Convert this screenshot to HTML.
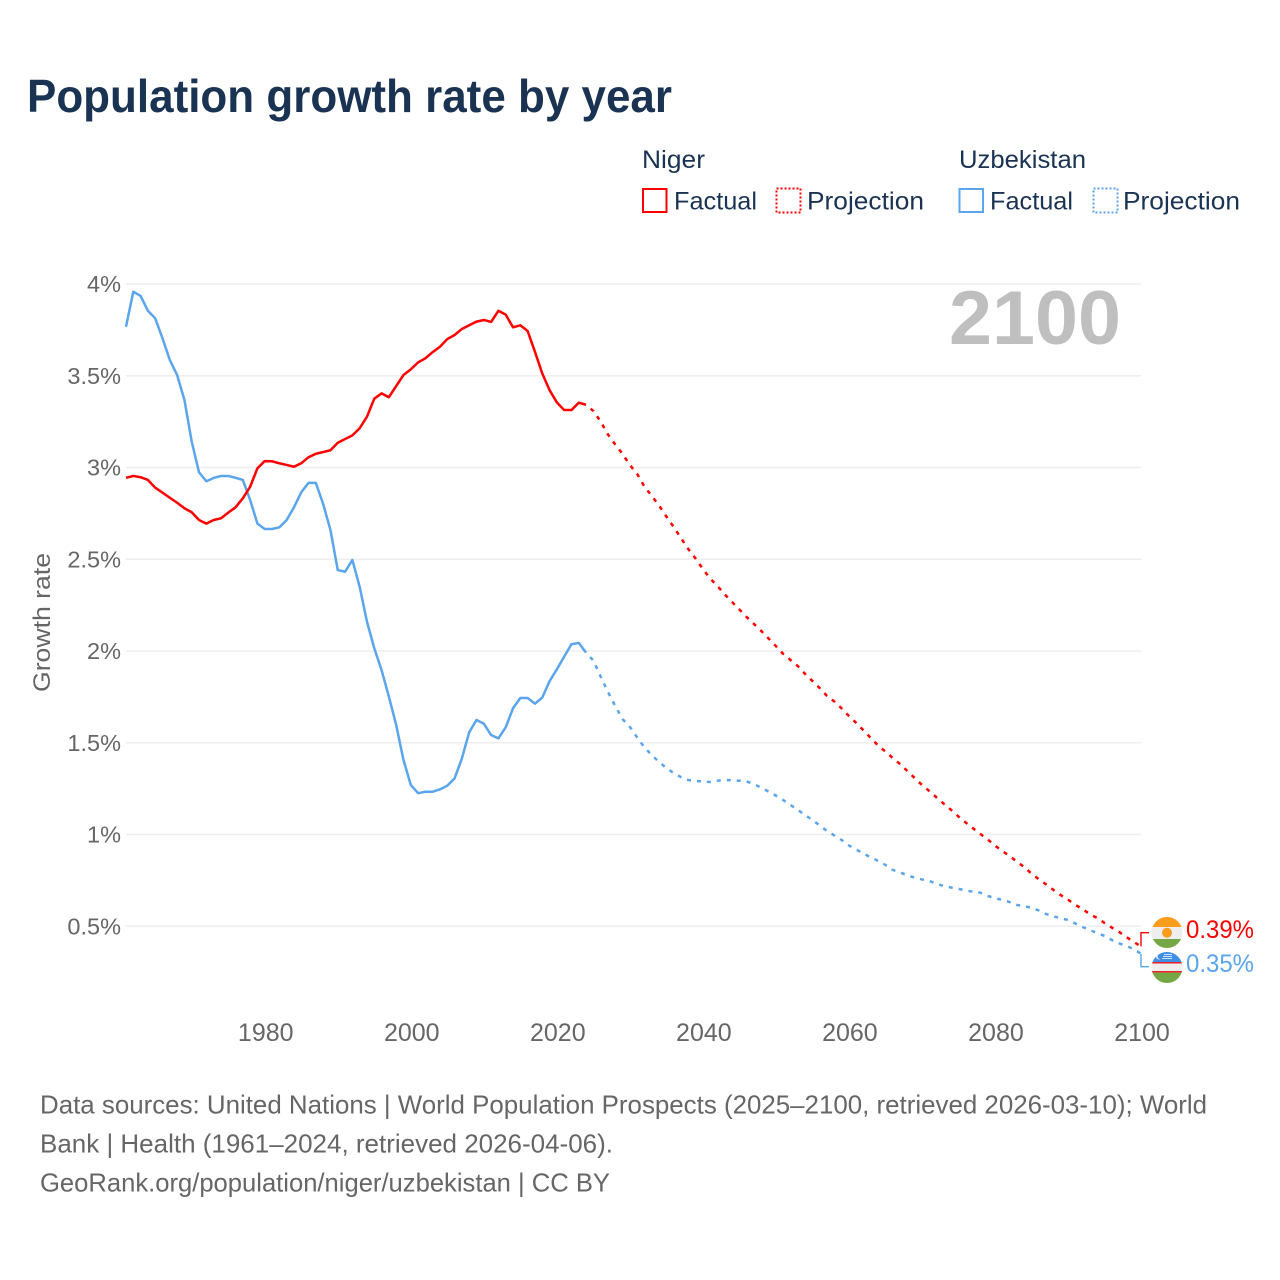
<!DOCTYPE html>
<html lang="en">
<head>
<meta charset="utf-8">
<title>Population growth rate by year</title>
<style>
  html, body { margin: 0; padding: 0; background: #fff; }
  svg { display: block; font-family: "Liberation Sans", sans-serif; }
</style>
</head>
<body>
<svg id="chart" xmlns="http://www.w3.org/2000/svg" width="1280" height="1280" viewBox="0 0 1280 1280">
  <rect x="0" y="0" width="1280" height="1280" fill="#ffffff"/>
  <text x="27" y="112" font-size="46" font-weight="bold" fill="#1a3353" textLength="645" lengthAdjust="spacingAndGlyphs">Population growth rate by year</text>

  <g font-size="25" fill="#1a3353">
    <text x="642" y="168" textLength="63" lengthAdjust="spacingAndGlyphs">Niger</text>
    <text x="959" y="168" textLength="127" lengthAdjust="spacingAndGlyphs">Uzbekistan</text>
    <rect x="643" y="189" width="23.5" height="23" fill="none" stroke="#ff0000" stroke-width="2"/>
    <text x="674" y="209.5" textLength="83" lengthAdjust="spacingAndGlyphs">Factual</text>
    <rect x="776.5" y="188.5" width="24" height="24" fill="none" stroke="#ff0000" stroke-width="2" stroke-dasharray="2 2"/>
    <text x="807" y="209.5" textLength="117" lengthAdjust="spacingAndGlyphs">Projection</text>
    <rect x="959.5" y="189" width="23.5" height="23" fill="none" stroke="#5aa5ec" stroke-width="2"/>
    <text x="990" y="209.5" textLength="83" lengthAdjust="spacingAndGlyphs">Factual</text>
    <rect x="1093.5" y="188.5" width="24" height="24" fill="none" stroke="#5aa5ec" stroke-width="2" stroke-dasharray="2 2"/>
    <text x="1123" y="209.5" textLength="117" lengthAdjust="spacingAndGlyphs">Projection</text>
  </g>

  <g id="grid"></g>
  <g id="yticks" font-size="23.5" fill="#666666" text-anchor="end"></g>
  <g id="xticks" font-size="25" fill="#666666" text-anchor="middle"></g>
  <text transform="translate(50,622.5) rotate(-90)" font-size="24" fill="#666666" text-anchor="middle" textLength="139" lengthAdjust="spacingAndGlyphs">Growth rate</text>
  <text x="949" y="344" font-size="76" font-weight="bold" fill="#bfbfbf" textLength="172" lengthAdjust="spacingAndGlyphs">2100</text>

  <g id="series"></g>

  <defs>
    <clipPath id="clip-niger"><circle cx="1167" cy="932.5" r="15.5"/></clipPath>
    <clipPath id="clip-uzbekistan"><circle cx="1167" cy="967.5" r="15.5"/></clipPath>
  </defs>
  <g clip-path="url(#clip-niger)">
    <rect x="1150" y="916" width="34" height="11" fill="#f99d1c"/>
    <rect x="1150" y="927" width="34" height="12" fill="#eeeeee"/>
    <rect x="1150" y="939" width="34" height="11" fill="#75a844"/>
    <circle cx="1167" cy="932.7" r="5" fill="#f99d1c"/>
  </g>
  <g clip-path="url(#clip-uzbekistan)">
    <rect x="1150" y="951" width="34" height="11" fill="#3f8fe6"/>
    <rect x="1150" y="962" width="34" height="1.6" fill="#e8202a"/>
    <rect x="1150" y="963.6" width="34" height="7.4" fill="#eeeeee"/>
    <rect x="1150" y="971" width="34" height="1.6" fill="#e8202a"/>
    <rect x="1150" y="972.6" width="34" height="12" fill="#75a844"/>
    <circle cx="1159" cy="956.5" r="3" fill="#eeeeee"/>
    <circle cx="1160.2" cy="956.5" r="2.6" fill="#3f8fe6"/>
    <rect x="1164" y="954" width="8" height="1" fill="#cfe2f7"/>
    <rect x="1163" y="956" width="9" height="1" fill="#cfe2f7"/>
    <rect x="1162" y="958" width="10" height="1" fill="#cfe2f7"/>
  </g>

  <g id="endlabels" font-size="25"></g>

  <g font-size="26" fill="#666666">
    <text x="40" y="1113.5" textLength="1167" lengthAdjust="spacingAndGlyphs">Data sources: United Nations | World Population Prospects (2025–2100, retrieved 2026-03-10); World</text>
    <text x="40" y="1152.5" textLength="573" lengthAdjust="spacingAndGlyphs">Bank | Health (1961–2024, retrieved 2026-04-06).</text>
    <text x="40" y="1191.5" textLength="570" lengthAdjust="spacingAndGlyphs">GeoRank.org/population/niger/uzbekistan | CC BY</text>
  </g>
</svg>
<script>
const firstFactualYear = 1961;
const firstProjectionYear = 2025;
const yTickValues = [0.5, 1, 1.5, 2, 2.5, 3, 3.5, 4];
const yTickLabels = ["0.5%", "1%", "1.5%", "2%", "2.5%", "3%", "3.5%", "4%"];
const xTickYears = [1980, 2000, 2020, 2040, 2060, 2080, 2100];
const xTickLabels = ["1980", "2000", "2020", "2040", "2060", "2080", "2100"];

const nigerFactual = [
  2.944, 2.954, 2.947, 2.932, 2.890, 2.863, 2.835, 2.808, 2.778, 2.756,
  2.714, 2.694, 2.714, 2.723, 2.754, 2.783, 2.832, 2.895, 2.996, 3.035,
  3.034, 3.023, 3.014, 3.004, 3.023, 3.056, 3.075, 3.084, 3.094, 3.135,
  3.155, 3.175, 3.214, 3.277, 3.375, 3.404, 3.383, 3.444, 3.504, 3.535,
  3.573, 3.595, 3.629, 3.658, 3.700, 3.722, 3.755, 3.775, 3.795, 3.804,
  3.793, 3.854, 3.833, 3.764, 3.775, 3.744, 3.631, 3.513, 3.422, 3.355,
  3.313, 3.313, 3.353, 3.342
];
const nigerProjection = [
  3.308, 3.251, 3.180, 3.125, 3.074, 3.014, 2.965, 2.896, 2.845, 2.793,
  2.733, 2.676, 2.616, 2.556, 2.504, 2.447, 2.395, 2.354, 2.308, 2.267,
  2.226, 2.185, 2.147, 2.109, 2.068, 2.027, 1.984, 1.951, 1.918, 1.875,
  1.837, 1.798, 1.755, 1.725, 1.687, 1.646, 1.608, 1.567, 1.526, 1.485,
  1.452, 1.417, 1.384, 1.346, 1.308, 1.270, 1.237, 1.202, 1.167, 1.134,
  1.098, 1.065, 1.034, 1.003, 0.973, 0.940, 0.910, 0.883, 0.852, 0.823,
  0.787, 0.756, 0.728, 0.698, 0.670, 0.645, 0.617, 0.593, 0.566, 0.545,
  0.518, 0.493, 0.469, 0.441, 0.415, 0.390
];
const uzbekistanFactual = [
  3.767, 3.958, 3.935, 3.854, 3.813, 3.704, 3.586, 3.504, 3.368, 3.141,
  2.974, 2.925, 2.943, 2.954, 2.954, 2.944, 2.932, 2.823, 2.694, 2.665,
  2.665, 2.674, 2.714, 2.783, 2.865, 2.916, 2.916, 2.801, 2.659, 2.441,
  2.432, 2.496, 2.350, 2.160, 2.015, 1.896, 1.751, 1.597, 1.406, 1.270,
  1.225, 1.233, 1.233, 1.246, 1.266, 1.306, 1.415, 1.557, 1.624, 1.604,
  1.542, 1.524, 1.584, 1.688, 1.744, 1.744, 1.713, 1.746, 1.835, 1.900,
  1.969, 2.037, 2.044, 1.991
];
const uzbekistanProjection = [
  1.948, 1.861, 1.777, 1.700, 1.629, 1.586, 1.529, 1.474, 1.433, 1.395,
  1.362, 1.335, 1.313, 1.297, 1.292, 1.289, 1.286, 1.293, 1.297, 1.295,
  1.293, 1.289, 1.275, 1.255, 1.234, 1.212, 1.188, 1.161, 1.134, 1.106,
  1.079, 1.049, 1.019, 0.995, 0.970, 0.940, 0.918, 0.896, 0.875, 0.856,
  0.834, 0.807, 0.794, 0.777, 0.765, 0.755, 0.747, 0.732, 0.719, 0.711,
  0.704, 0.695, 0.688, 0.683, 0.665, 0.654, 0.643, 0.632, 0.616, 0.609,
  0.601, 0.586, 0.567, 0.554, 0.544, 0.534, 0.515, 0.496, 0.479, 0.463,
  0.447, 0.425, 0.407, 0.392, 0.376, 0.350
];

const SVG_NS = "http://www.w3.org/2000/svg";
const RED = "#ff0000";
const BLUE = "#5aa5ec";

function xScale(year) {
  return 126 + (year - 1961) * (1015 / 139);
}
function yScale(value) {
  return 284 + (4 - value) * 183.5;
}
function make(tag, attrs, parent) {
  const el = document.createElementNS(SVG_NS, tag);
  for (const key in attrs) el.setAttribute(key, attrs[key]);
  parent.appendChild(el);
  return el;
}
function linePoints(startYear, values) {
  return values.map(function (v, i) {
    return xScale(startYear + i).toFixed(2) + "," + yScale(v).toFixed(2);
  }).join(" ");
}

const gridLayer = document.getElementById("grid");
const yTickLayer = document.getElementById("yticks");
const xTickLayer = document.getElementById("xticks");
const seriesLayer = document.getElementById("series");
const endLayer = document.getElementById("endlabels");

yTickValues.forEach(function (value, i) {
  const gridLine = make("line", { x1: 126, x2: 1141, y1: yScale(value), y2: yScale(value), stroke: "#eeeeee", "stroke-width": 1.5 }, gridLayer);
  
  
  const tick = make("text", { x: 121, y: yScale(value) + 8 }, yTickLayer);
  
  
  tick.textContent = yTickLabels[i];
});

xTickYears.forEach(function (year, i) {
  const tick = make("text", { x: xScale(year) + 1, y: 1041 }, xTickLayer);
  
  
  tick.textContent = xTickLabels[i];
});

function drawSeries(factual, projection, color) {
  const solid = make("polyline", { points: linePoints(firstFactualYear, factual), fill: "none", stroke: color, "stroke-width": 2.5, "stroke-linejoin": "round" }, seriesLayer);
  
  
  const joined = [factual[factual.length - 1]].concat(projection);
  const dashed = make("polyline", { points: linePoints(firstProjectionYear - 1, joined), fill: "none", stroke: color, "stroke-width": 2.5, "stroke-dasharray": "4 6", "stroke-dashoffset": 4 }, seriesLayer);
  
  
}
drawSeries(uzbekistanFactual, uzbekistanProjection, BLUE);
drawSeries(nigerFactual, nigerProjection, RED);

function drawEndLabel(projection, labelY, color) {
  const last = projection[projection.length - 1];
  const endX = xScale(firstProjectionYear + projection.length - 1);
  const connector = make("polyline", { points: endX + "," + yScale(last) + " " + endX + "," + labelY + " 1149," + labelY, fill: "none", stroke: color, "stroke-width": 1.4 }, endLayer);
  
  
  const label = make("text", { x: 1186, y: labelY + 5.5, fill: color, textLength: 68, lengthAdjust: "spacingAndGlyphs" }, endLayer);
  
  
  label.textContent = last.toFixed(2) + "%";
}
drawEndLabel(nigerProjection, 932.7, RED);
drawEndLabel(uzbekistanProjection, 966.7, BLUE);
</script>
</body>
</html>
